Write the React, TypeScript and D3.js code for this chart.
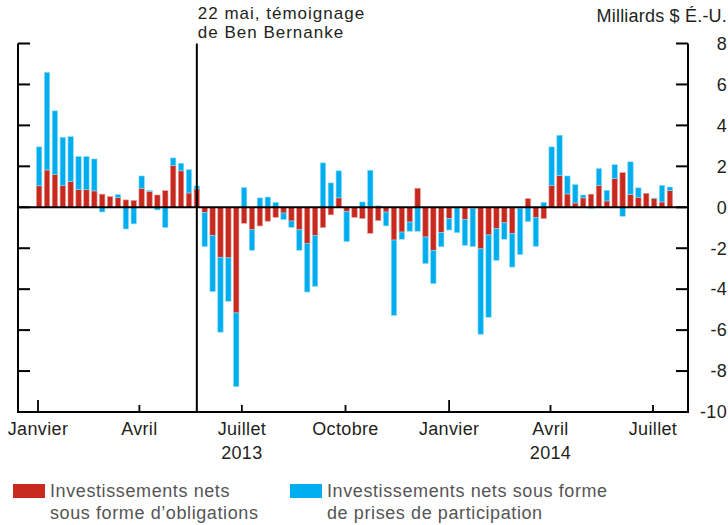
import React from "react";
import * as d3 from "d3";

// Weekly net flows, billions of US$ (first week: 2 Jan 2013)
const startWeek = "2013-01-02";
const bonds = [
  1.05, 1.82, 1.6, 1.06, 1.25, 0.86, 0.86, 0.8, 0.64, 0.52, 0.47, 0.36, 0.33, 0.93, 0.77, 0.6, 0.81, 2.05, 1.78, 0.7, 0.9,
  -0.26, -1.37, -2.44, -2.47, -5.16, -0.78, -1.1, -0.91, -0.68, -0.49, -0.28, -0.67, -1.1, -1.76, -1.37, -0.99, -0.37, 0.46, -0.21,
  -0.49, -0.55, -1.27, -0.65, -0.23, -1.6, -1.21, -0.72, 0.93, -1.45, -2.1, -1.24, -0.54, -0.02, -0.59,
  -0.05, -2.03, -1.35, -1.04, -0.76, -1.27, -0.05, 0.42, -0.49, -0.55,
  1.07, 1.55, 0.65, 0.21, 0.46, 0.64, 1.07, 0.31, 1.4, 1.69, 0.62, 0.49, 0.68, 0.42, 0.26, 0.81,
];
const equity = [
  1.9, 4.77, 3.11, 2.36, 2.2, 1.62, 1.62, 1.56, -0.23, -0.03, 0.15, -1.06, -0.81, 0.6, 0.05, -0.13, -0.99, 0.36, 0.37, 1.14, 0.14,
  -1.66, -2.75, -3.66, -2.12, -3.6, 0.96, -1.0, 0.46, 0.5, 0.24, -0.32, -0.31, -1.0, -2.38, -2.49, 2.17, 1.19, 1.32, -1.47,
  0, 0.26, 1.81, 0.07, -0.68, -3.68, -0.35, -0.45, -1.17, -1.3, -1.63, -0.69, -0.57, -1.22, -1.27,
  -1.87, -4.17, -4.02, -1.56, -0.8, -1.65, -2.26, -0.7, -1.42, 0.24,
  1.88, 1.97, 0.88, 0.9, 0.14, -0.05, 0.82, 0.52, 0.68, -0.44, 1.6, 0.46, 0, 0.03, 0.81, 0.18,
];
const monthLabels = ["Janvier", "Avril", "Juillet", "Octobre"];
const yearLabels = [
  { year: "2013", at: "2013-07-01" },
  { year: "2014", at: "2014-04-01" },
];
const yTicks = [8, 6, 4, 2, 0, -2, -4, -6, -8, -10];
const eventDate = "2013-05-22";
const eventLines = ["22 mai, témoignage", "de Ben Bernanke"];
const unitLabel = "Milliards $ É.-U.";
const legendItems = [
  { key: "bonds", lines: ["Investissements nets", "sous forme d’obligations"] },
  { key: "equity", lines: ["Investissements nets sous forme", "de prises de participation"] },
];

const COLORS: Record<string, string> = { bonds: "#c8291f", equity: "#00aeef" };
const STROKES: Record<string, string> = { bonds: "#e49a94", equity: "#8fdcf8" };
const FONT = "'Liberation Sans', Arial, sans-serif";
const TXT = "#231f20";
const FS = 18;

export default function App() {
  const W = 728, H = 525;
  const left = 18, right = 688, top = 43.5, bottom = 412;
  const parse = d3.utcParse("%Y-%m-%d");
  const start = parse(startWeek)!;
  const dates = bonds.map((_, i) => d3.utcDay.offset(start, i * 7));
  const rows = dates.map((d, i) => ({ date: d, bonds: bonds[i], equity: equity[i] }));

  const x = d3.scaleUtc().domain([parse("2013-01-01")!, parse("2014-07-01")!]).range([38, 653]);
  const y = d3.scaleLinear().domain([-10, 8]).range([bottom, top]);

  const stack = d3.stack<any>().keys(["bonds", "equity"]).offset(d3.stackOffsetDiverging);
  const series = stack(rows);
  const bw = 5.4;

  const monthTicks = d3.utcMonth.every(3)!.range(parse("2013-01-01")!, parse("2014-07-02")!);
  const ex = x(parse(eventDate)!);

  return (
    <svg width={W} height={H} style={{ position: "absolute", left: 0, top: 0 }} fontFamily={FONT}>
      <rect x={0} y={0} width={W} height={H} fill="#fff" />
      {/* bars */}
      {series.map((s) => (
        <g key={s.key} fill={COLORS[s.key]} stroke={STROKES[s.key]} strokeWidth={0.6}>
          {s.map((p, i) => {
            const y0 = y(p[0]), y1 = y(p[1]);
            const h = Math.abs(y0 - y1);
            if (h < 0.01) return null;
            return (
              <rect key={i} x={x(rows[i].date) - bw / 2} y={Math.min(y0, y1)} width={bw} height={h} />
            );
          })}
        </g>
      ))}
      {/* zero line */}
      <line x1={left} x2={right} y1={y(0)} y2={y(0)} stroke="#000" strokeWidth={2} />
      {/* axes frame */}
      <line x1={left} x2={left} y1={top} y2={bottom} stroke="#000" strokeWidth={2} />
      <line x1={right} x2={right} y1={top} y2={bottom} stroke="#000" strokeWidth={2} />
      <line x1={left - 1} x2={right + 1} y1={bottom} y2={bottom} stroke="#000" strokeWidth={2.2} />
      {yTicks.map((t) => (
        <g key={t}>
          <line x1={left} x2={left + 12} y1={y(t)} y2={y(t)} stroke="#000" strokeWidth={2} />
          <line x1={right - 12} x2={right} y1={y(t)} y2={y(t)} stroke="#000" strokeWidth={2} />
          <text x={727} y={y(t)} dy="0.35em" textAnchor="end" fontSize={FS} letterSpacing={0.3} fill={TXT}>
            {t}
          </text>
        </g>
      ))}
      {/* x ticks */}
      {monthTicks.map((d, i) => {
        const isJan = d.getUTCMonth() === 0;
        return (
          <g key={i}>
            <line x1={x(d)} x2={x(d)} y1={bottom} y2={bottom - (isJan ? 12 : 7)} stroke="#000" strokeWidth={1.8} />
            <text x={x(d)} y={435} textAnchor="middle" fontSize={FS} letterSpacing={0.35} fill={TXT}>
              {monthLabels[d.getUTCMonth() / 3]}
            </text>
          </g>
        );
      })}
      {yearLabels.map((yl) => (
        <text key={yl.year} x={x(parse(yl.at)!)} y={459} textAnchor="middle" fontSize={FS} letterSpacing={0.35} fill={TXT}>
          {yl.year}
        </text>
      ))}
      {/* event line */}
      <line x1={ex} x2={ex} y1={top} y2={bottom} stroke="#000" strokeWidth={2} />
      {eventLines.map((l, i) => (
        <text key={i} x={ex + 1} y={19 + i * 19} fontSize={17} letterSpacing={1.0} fill={TXT}>
          {l}
        </text>
      ))}
      <text x={727} y={22} textAnchor="end" fontSize={FS} letterSpacing={0.2} fill={TXT}>
        {unitLabel}
      </text>
      {/* legend */}
      {legendItems.map((it, i) => {
        const lx = i === 0 ? 13 : 290;
        return (
          <g key={it.key}>
            <rect x={lx} y={484} width={32} height={14} fill={COLORS[it.key]} />
            {it.lines.map((l, j) => (
              <text key={j} x={lx + 37} y={497 + j * 22} fontSize={FS} letterSpacing={0.6} fill="#555">
                {l}
              </text>
            ))}
          </g>
        );
      })}
    </svg>
  );
}
